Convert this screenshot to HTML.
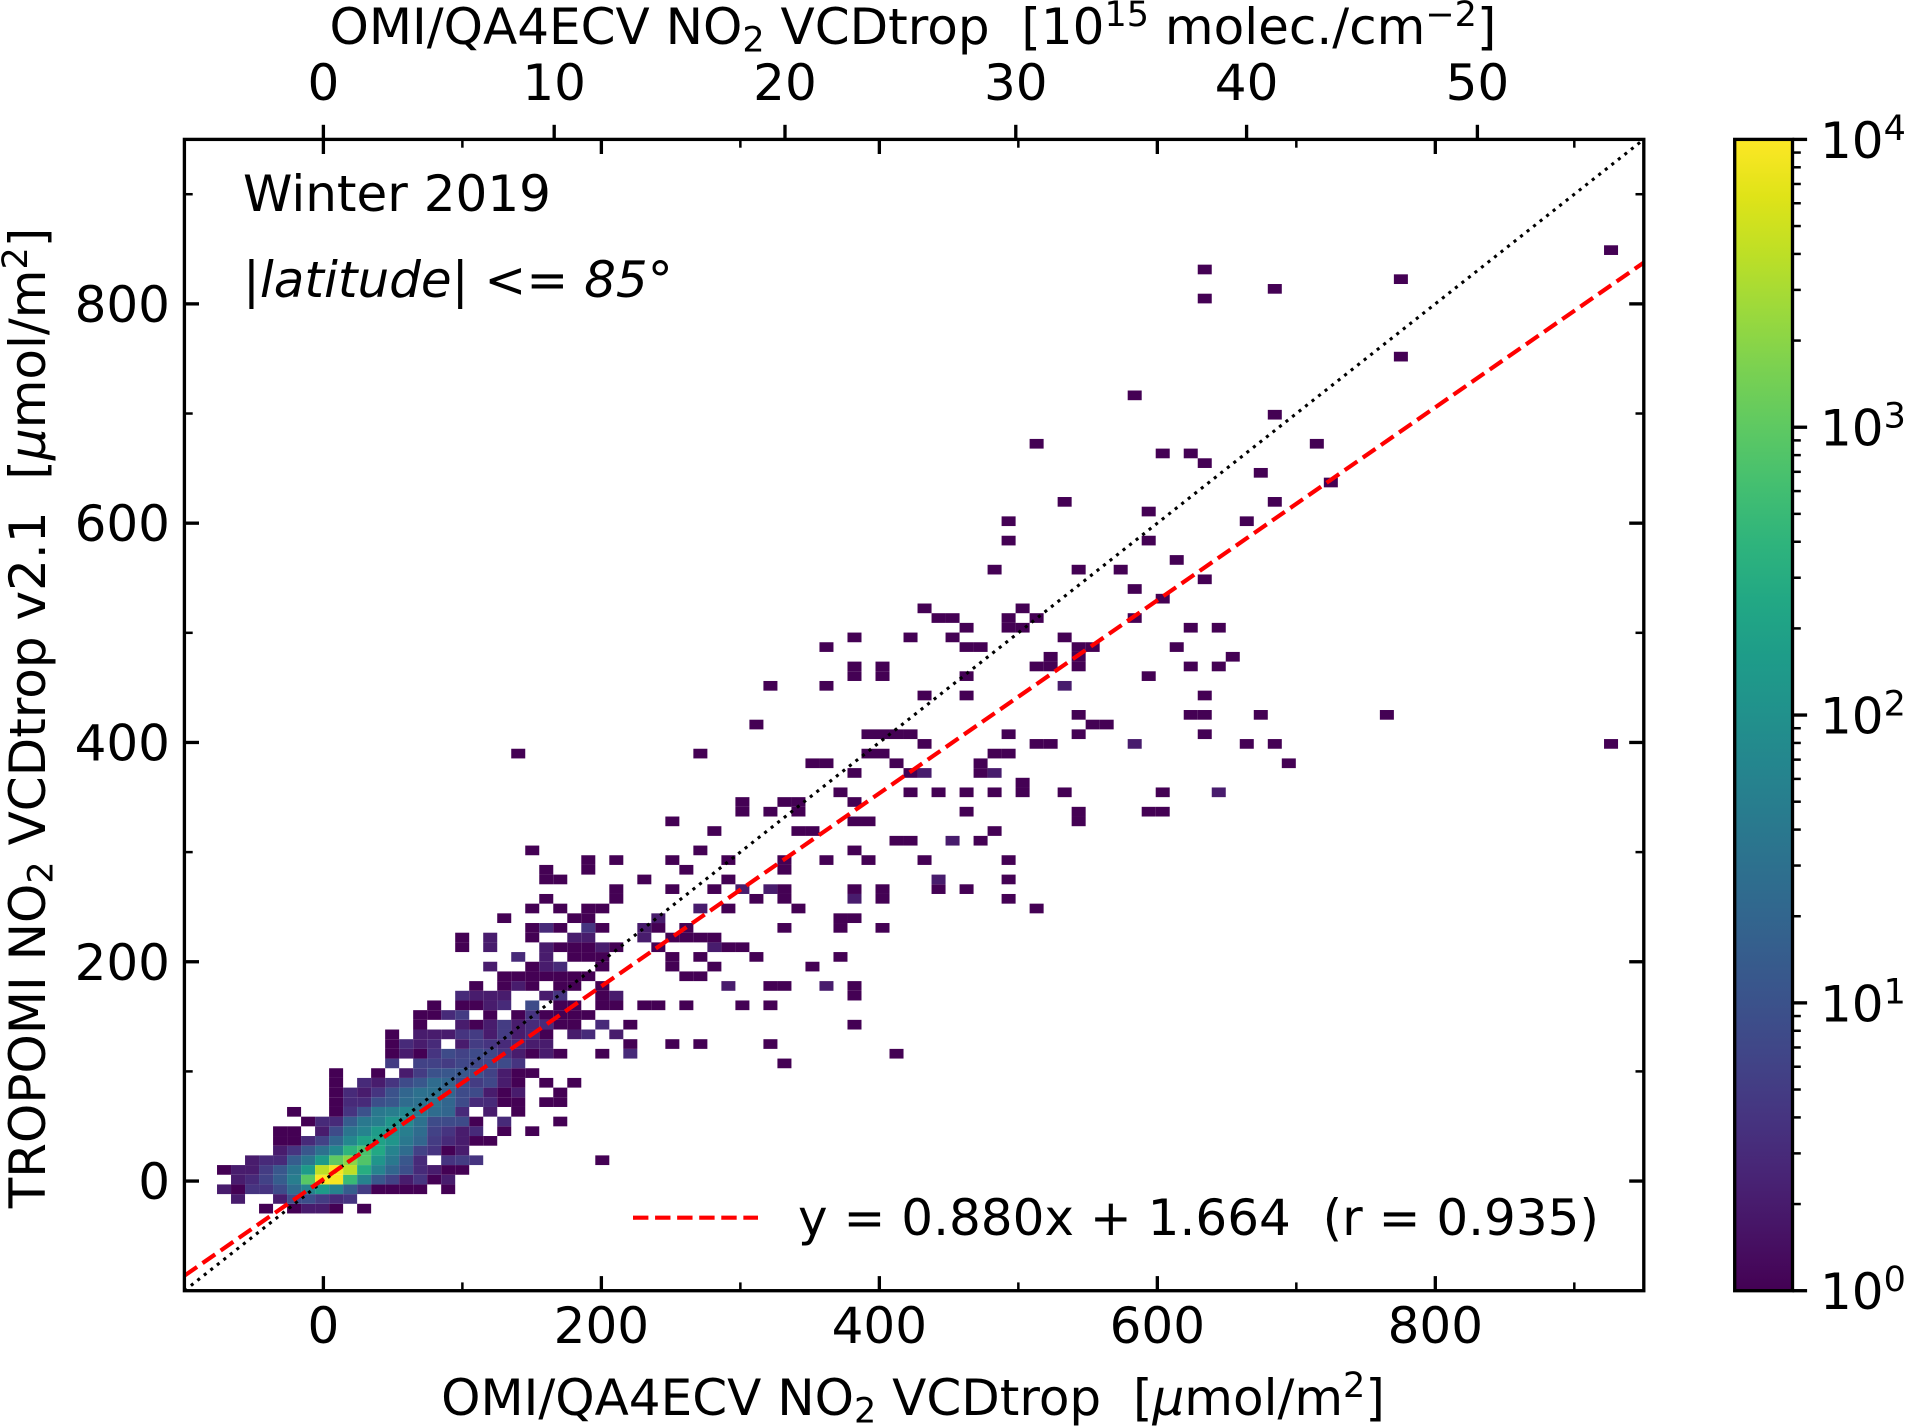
<!DOCTYPE html>
<html lang="en">
<head>
<meta charset="utf-8">
<title>TROPOMI vs OMI NO2 VCDtrop, Winter 2019</title>
<style>
html,body{margin:0;padding:0;background:#fff;}
svg{display:block;}
text{font-family:"DejaVu Sans",sans-serif;font-size:50px;fill:#000;white-space:pre;}
</style>
</head>
<body>
<svg id="figure" xmlns="http://www.w3.org/2000/svg" width="1906" height="1427" viewBox="0 0 1906 1427">
<defs>
<linearGradient id="viridis-gradient" x1="0" y1="1" x2="0" y2="0"></linearGradient>
<clipPath id="plot-clip"><rect x="184.4" y="139.4" width="1459.4" height="1151.3"></rect></clipPath>
</defs>
<rect x="0" y="0" width="1906" height="1427" fill="#fff"></rect>
<g id="heatmap" clip-path="url(#plot-clip)"></g>
<g id="lines" clip-path="url(#plot-clip)"></g>
<g id="ticks"></g>
<rect x="184.4" y="139.4" width="1459.4" height="1151.3" fill="none" stroke="#000" stroke-width="3.33"></rect>
<g id="tick-labels"></g>

<text x="913" y="44" text-anchor="middle">OMI/QA4ECV NO<tspan font-size="35" dy="7.5">2</tspan><tspan dy="-7.5"> VCDtrop  [10</tspan><tspan font-size="35" dy="-18">15</tspan><tspan dy="18"> molec./cm</tspan><tspan font-size="35" dy="-18">−2</tspan><tspan dy="18">]</tspan></text>
<text x="913" y="1415" text-anchor="middle">OMI/QA4ECV NO<tspan font-size="35" dy="7.5">2</tspan><tspan dy="-7.5"> VCDtrop  [</tspan><tspan font-style="italic">μ</tspan><tspan>mol/m</tspan><tspan font-size="35" dy="-18">2</tspan><tspan dy="18">]</tspan></text>
<text transform="translate(45,718) rotate(-90)" x="0" y="0" text-anchor="middle">TROPOMI NO<tspan font-size="35" dy="7.5">2</tspan><tspan dy="-7.5"> VCDtrop v2.1  [</tspan><tspan font-style="italic">μ</tspan><tspan>mol/m</tspan><tspan font-size="35" dy="-18">2</tspan><tspan dy="18">]</tspan></text>

<text x="243" y="211">Winter 2019</text>
<text x="243" y="297">|<tspan font-style="italic">latitude</tspan>| &lt;= <tspan font-style="italic">85°</tspan></text>

<line x1="633" y1="1217.7" x2="758" y2="1217.7" stroke="#ff0000" stroke-width="4.17" stroke-dasharray="15.4 6.67"></line>
<text x="798" y="1235">y = 0.880x + 1.664  (r = 0.935)</text>

<rect id="colorbar-fill" x="1734.7" y="139.4" width="57.8" height="1151.3" fill="url(#viridis-gradient)" stroke="#000" stroke-width="3.33"></rect>
<g id="colorbar-ticks"></g>
</svg>
<script>
// ---- chart data ----
const xMajorTicks = [0, 200, 400, 600, 800];
const xMinorTicks = [100, 300, 500, 700, 900];
const yMajorTicks = [0, 200, 400, 600, 800];
const yMinorTicks = [100, 300, 500, 700, 900];
const topAxisTicks = [0, 10, 20, 30, 40, 50];
const colorbarDecades = [0, 1, 2, 3, 4];
const colorbarMinorFactors = [2, 3, 4, 5, 6, 7, 8, 9];
const fitSlope = 0.880;
const fitIntercept = 1.664;

// 2-D histogram, listed per y-bin: y-bin index, x-bin indices, counts in each bin
const rowBins = [-4,-3,-2,-1,0,1,2,3,4,5,6,7,8,9,10,11,12,13,14,15,16,17,18,19,20,21,22,23,24,25,26,27,28,29,30,31,32,33,34,35,36,37,38,39,40,41,42,43,44,45,46,47,49,50,51,52,53,54,55,56,57,58,59,60,61,62,63,65,67,68,69,71,72,73,74,75,78,80,84,90,91,92,93,95];
const rowCols = [
[-4,-2,-1,0,1,3],
[-6,-3,-2,-1,0,1,2],
[-7,-6,-5,-4,-3,-2,-1,0,1,2,3,4,5,6,7,9],
[-6,-5,-4,-3,-2,-1,0,1,2,3,4,5,6,7,8,9],
[-7,-6,-5,-4,-3,-2,-1,0,1,2,3,4,5,6,7,8,9,10],
[-5,-4,-3,-2,-1,0,1,2,3,4,5,6,7,9,10,11,20],
[-3,-2,-1,0,1,2,3,4,5,6,7,8,9,10],
[-3,-2,-1,0,1,2,3,4,5,6,7,8,9,10,11,12],
[-3,-2,0,1,2,3,4,5,6,7,8,9,10,11,13,15],
[-1,0,1,2,3,4,5,6,7,8,9,10,11,13,17],
[-2,1,2,3,4,5,6,7,8,9,10,12,14],
[1,2,3,4,5,6,7,8,9,10,11,12,13,14,16,17],
[1,2,3,4,5,6,7,8,9,10,11,12,13,14,17],
[1,3,4,5,6,7,8,9,10,11,12,13,14,16,18],
[1,4,6,7,8,9,10,11,12,13,14,15],
[5,7,8,9,10,11,12,13,14,33],
[5,6,7,8,9,10,11,12,13,14,15,16,17,20,22,41],
[5,6,7,8,10,11,12,13,14,15,16,22,25,27,32],
[5,7,8,9,10,11,12,13,14,15,16,18,19,21],
[7,10,11,12,13,14,15,16,17,18,20,22,38],
[7,8,9,10,12,14,15,16,17,18,19],
[8,10,11,12,13,15,17,18,20,21,23,24,26,30,32],
[10,11,12,13,16,17,20,21,38],
[11,13,14,15,17,18,20,29,32,33,36,38],
[13,14,15,16,17,18,19,26,27],
[12,15,16,17,20,25,28,35],
[14,16,18,19,20,25,27,31,37],
[10,12,16,17,18,19,20,21,24,28,29,30],
[10,12,15,18,19,23,25,26,27,28],
[15,16,17,19,20,23,24,26,33,37,40],
[13,18,19,24,37,38],
[15,17,19,20,27,29,34,51],
[16,21,31,33,38,40,49],
[21,25,28,30,32,33,38,40,44,46],
[16,17,23,29,44,49],
[16,19,26,33],
[19,21,25,29,33,36,39,43,49],
[15,27,38],
[41,42,45,47],
[28,34,35,48],
[25,38,39,54],
[30,32,34,46,54,59,60],
[30,33,34,38],
[37,42,44,46,48,50,53,60,64],
[50],
[38,42,43,47,48],
[35,36,41,47,69],
[14,27,39,40,48,49],
[43,51,52,58,66,68,92],
[39,40,41,42,49,54,63],
[31,55,56],
[54,62,63,67,76],
[43,46,63],
[32,36,53],
[38,40,46,59],
[38,40,51,52,54,62,64],
[52,54,65],
[36,46,47,54,55,61],
[38,42,45,53],
[46,49,50,62,64],
[44,45,49,51,58],
[43,50],
[60],
[58],
[63],
[48,54,57],
[61],
[49,59],
[49,66],
[59],
[53,68],
[72],
[67],
[63],
[60,62],
[51,71],
[68],
[58],
[77],
[63],
[68],
[77],
[63],
[92]
];
const rowCounts = [
[1,1,2,2,1,1],
[2,2,8,9,5,3,4],
[2,1,4,4,8,25,60,150,60,15,5,1,1,1,1,1],
[2,3,6,15,50,900,10000,9000,500,60,12,6,2,4,1,2],
[1,2,2,5,12,35,150,4000,9000,4000,300,60,20,9,3,2,1,1],
[2,3,3,15,35,150,1000,2000,800,120,40,12,3,4,5,4,1],
[2,4,12,30,70,400,700,250,60,25,6,4,1,2],
[1,1,3,6,20,70,200,200,120,40,20,5,3,2,1,1],
[1,1,2,8,35,60,150,100,50,25,6,4,2,3,1,1],
[1,3,3,15,40,50,120,80,30,8,8,8,1,3,1],
[1,1,4,10,40,50,70,40,25,20,3,2,1],
[1,3,3,9,12,25,30,30,20,8,3,3,1,1,1,1],
[1,3,2,4,10,20,30,30,20,8,8,2,1,2,1],
[1,3,2,4,8,12,25,20,8,5,7,2,1,1,1],
[1,1,2,5,10,12,12,10,6,2,1,1],
[5,6,6,5,7,7,7,8,4,1],
[1,2,1,4,8,6,8,7,4,2,1,2,1,1,3,1],
[1,3,2,3,2,5,4,3,3,2,2,1,1,1,1],
[1,2,2,2,4,5,2,5,2,3,1,2,3,2],
[1,2,1,2,5,2,3,3,1,1,3,1,1],
[1,1,3,5,1,1,4,1,1,1,1],
[1,1,1,2,3,8,1,1,1,1,1,1,1,1,1],
[3,2,2,2,2,4,1,2,1],
[1,1,2,1,1,1,1,2,1,1,2,1],
[1,1,1,1,1,1,1,1,1],
[2,1,2,3,1,1,1,1],
[3,2,1,1,1,1,1,1,1],
[1,2,2,1,1,1,2,1,1,2,1,1],
[1,2,1,2,2,2,1,1,1,1],
[1,3,1,4,1,2,1,1,1,1,1],
[1,1,1,2,1,1],
[1,1,1,1,2,1,1,1],
[1,1,1,1,2,1,1],
[1,1,1,2,2,1,1,1,1,1],
[1,1,1,1,2,1],
[1,1,1,1],
[1,1,1,1,1,1,1,1,1],
[1,1,1],
[1,1,2,1],
[1,1,1,1],
[1,1,1,1],
[1,1,1,1,1,1,1],
[1,1,1,1],
[1,1,1,1,1,1,1,1,2],
[1],
[1,1,2,1,2],
[1,1,1,1,1],
[1,1,1,1,1,1],
[1,1,1,2,1,1,1],
[1,1,1,1,1,1,1],
[1,1,1],
[1,1,1,1,1],
[1,1,1],
[1,1,2],
[1,1,1,1],
[1,1,1,1,1,1,1],
[1,1,1],
[1,1,1,1,1,1],
[1,1,1,1],
[1,1,1,1,1],
[1,1,1,1,1],
[1,1],
[1],
[1],
[1],
[1,1,1],
[1],
[1,1],
[1,1],
[1],
[1,1],
[1],
[1],
[1],
[1,1],
[1,1],
[1],
[1],
[1],
[1],
[1],
[1],
[1],
[1]
];
// histogram bin geometry in data units (µmol/m²)
const xBinOrigin = -5.97;
const xBinWidth = 10.08;
const yBinOrigin = 5.75;
const yBinHeight = 8.83;
// top axis unit conversion: 1e15 molec/cm² in µmol/m²
const molecToUmol = 16.6054;
const viridisStops = ['#440154','#471365','#482475','#463480','#414487','#3b528b','#355f8d','#2f6c8e','#2a788e','#25848e','#21918c','#1e9c89','#22a884','#2fb47c','#44bf70','#5ec962','#7ad151','#9bd93c','#bddf26','#dfe318','#fde725'];

// ---- axis functions ----
const plotLeft = 184.4, plotRight = 1643.8, plotTop = 139.4, plotBottom = 1290.7;
const domainMin = -100, domainMax = 950;
function xAxis(v){ return plotLeft + (v - domainMin) / (domainMax - domainMin) * (plotRight - plotLeft); }
function yAxis(v){ return plotBottom - (v - domainMin) / (domainMax - domainMin) * (plotBottom - plotTop); }
function cbAxis(logCount){ return plotBottom - logCount / 4 * (plotBottom - plotTop); }

const NS = 'http://www.w3.org/2000/svg';
function make(tag, parent, attrs){
  const el = document.createElementNS(NS, tag);
  for (const k in attrs) el.setAttribute(k, attrs[k]);
  parent.appendChild(el);
  return el;
}
function hexToRgb(h){ return [parseInt(h.slice(1,3),16), parseInt(h.slice(3,5),16), parseInt(h.slice(5,7),16)]; }
function viridis(t){
  const clamped = Math.max(0, Math.min(1, t));
  const p = clamped * (viridisStops.length - 1);
  const i = Math.min(Math.floor(p), viridisStops.length - 2);
  const f = p - i;
  const a = hexToRgb(viridisStops[i]), b = hexToRgb(viridisStops[i + 1]);
  return 'rgb(' + a.map((c, j) => Math.round(c + (b[j] - c) * f)).join(',') + ')';
}

// ---- heatmap ----
const heatmap = document.getElementById('heatmap');
rowBins.forEach(function(rowBin, rowIndex){
  rowCols[rowIndex].forEach(function(colBin, colIndex){
    const x0 = xBinOrigin + colBin * xBinWidth;
    const y0 = yBinOrigin + rowBin * yBinHeight;
    const left = xAxis(x0), right = xAxis(x0 + xBinWidth);
    const bottom = yAxis(y0), top = yAxis(y0 + yBinHeight);
    const count = rowCounts[rowIndex][colIndex];
    const cell = make('rect', heatmap, {x: left, y: top, width: right - left, height: bottom - top, fill: viridis(Math.log10(count) / 4)});
    
    
  });
});

// ---- reference lines ----
const lines = document.getElementById('lines');
const identityLine = make('line', lines, {x1: xAxis(domainMin), y1: yAxis(domainMin), x2: xAxis(domainMax), y2: yAxis(domainMax), stroke: '#000', 'stroke-width': 3.1, 'stroke-dasharray': '3.1 5.2'});


const fitLine = make('line', lines, {x1: xAxis(domainMin), y1: yAxis(fitSlope * domainMin + fitIntercept), x2: xAxis(domainMax), y2: yAxis(fitSlope * domainMax + fitIntercept), stroke: '#ff0000', 'stroke-width': 4.17, 'stroke-dasharray': '15.4 6.67'});



// ---- ticks ----
const MAJOR_LEN = 14.6, MINOR_LEN = 8.3, MAJOR_W = 3.33, MINOR_W = 2.5;
const ticks = document.getElementById('ticks');
const labels = document.getElementById('tick-labels');
function tickLine(parent, x1, y1, x2, y2, w){
  const t = make('line', parent, {x1: x1, y1: y1, x2: x2, y2: y2, stroke: '#000', 'stroke-width': w});
  
  
}
xMajorTicks.forEach(function(v){
  const px = xAxis(v);
  tickLine(ticks, px, plotBottom, px, plotBottom - MAJOR_LEN, MAJOR_W);
  tickLine(ticks, px, plotTop, px, plotTop + MAJOR_LEN, MAJOR_W);
  const t = make('text', labels, {x: px, y: 1343, 'text-anchor': 'middle'});
  
  
  t.textContent = String(v);
});
xMinorTicks.forEach(function(v){
  const px = xAxis(v);
  tickLine(ticks, px, plotBottom, px, plotBottom - MINOR_LEN, MINOR_W);
  tickLine(ticks, px, plotTop, px, plotTop + MINOR_LEN, MINOR_W);
});
yMajorTicks.forEach(function(v){
  const py = yAxis(v);
  tickLine(ticks, plotLeft, py, plotLeft + MAJOR_LEN, py, MAJOR_W);
  tickLine(ticks, plotRight, py, plotRight - MAJOR_LEN, py, MAJOR_W);
  const t = make('text', labels, {x: 170, y: py + 18, 'text-anchor': 'end'});
  
  
  t.textContent = String(v);
});
yMinorTicks.forEach(function(v){
  const py = yAxis(v);
  tickLine(ticks, plotLeft, py, plotLeft + MINOR_LEN, py, MINOR_W);
  tickLine(ticks, plotRight, py, plotRight - MINOR_LEN, py, MINOR_W);
});
topAxisTicks.forEach(function(v){
  const px = xAxis(v * molecToUmol);
  tickLine(ticks, px, plotTop, px, plotTop - MAJOR_LEN, MAJOR_W);
  const t = make('text', labels, {x: px, y: 100, 'text-anchor': 'middle'});
  
  
  t.textContent = String(v);
});

// ---- colorbar ----
const gradient = document.getElementById('viridis-gradient');
viridisStops.forEach(function(c, i){
  make('stop', gradient, {offset: i / (viridisStops.length - 1), 'stop-color': c});
});
const cbTicks = document.getElementById('colorbar-ticks');
const cbRight = 1792.5;
colorbarDecades.forEach(function(d){
  const py = cbAxis(d);
  tickLine(cbTicks, cbRight, py, cbRight + MAJOR_LEN, py, MAJOR_W);
  const t = make('text', cbTicks, {x: 1820, y: py + 18.4});
  
  
  t.textContent = '10';
  const sup = make('tspan', t, {'font-size': 35, dy: -18});
  sup.textContent = String(d);
  if (d < 4) {
    colorbarMinorFactors.forEach(function(f){
      const my = cbAxis(d + Math.log10(f));
      tickLine(cbTicks, cbRight, my, cbRight + MINOR_LEN, my, MINOR_W);
    });
  }
});
</script>
</body>
</html>
